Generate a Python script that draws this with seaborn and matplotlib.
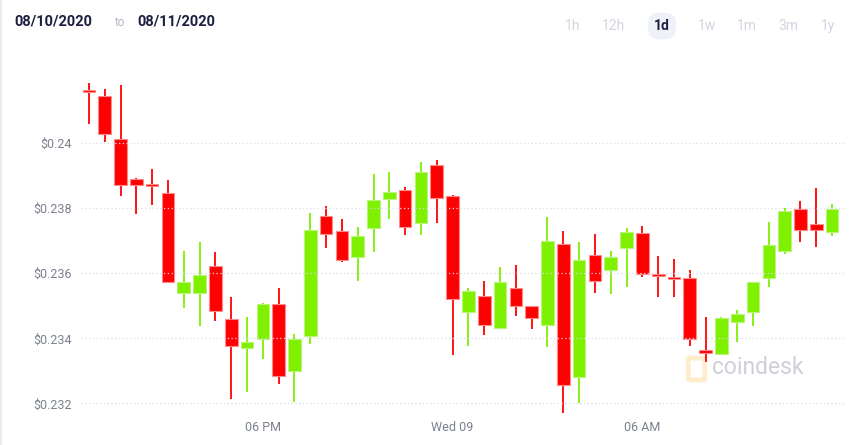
import matplotlib
matplotlib.use("Agg")
import matplotlib.pyplot as plt
import seaborn as sns
import numpy as np
import pandas as pd
from matplotlib.patches import FancyBboxPatch

# 30 minute candles
opens = [0.241631, 0.241446, 0.240123, 0.238903, 0.238749, 0.238462, 0.235405, 0.235405,
         0.236226, 0.234595, 0.233692, 0.233979, 0.235056, 0.232985, 0.234062, 0.237754,
         0.237292, 0.236492, 0.237405, 0.238287, 0.238554, 0.237559, 0.239333, 0.238379,
         0.234810, 0.235292, 0.234308, 0.235538, 0.234985, 0.234400, 0.236913, 0.232821,
         0.236564, 0.236103, 0.236769, 0.237241, 0.235959, 0.235877, 0.235856, 0.233631,
         0.233518, 0.234492, 0.234821, 0.235846, 0.236697, 0.237990, 0.237508, 0.237262]
closes = [0.241569, 0.240277, 0.238708, 0.238728, 0.238677, 0.235744, 0.235723, 0.235959,
          0.234851, 0.233774, 0.233887, 0.235056, 0.232831, 0.233979, 0.237333, 0.237200,
          0.236421, 0.237138, 0.238256, 0.238492, 0.237426, 0.239128, 0.238328, 0.235221,
          0.235446, 0.234400, 0.235723, 0.235005, 0.234636, 0.237005, 0.232564, 0.236410,
          0.235754, 0.236503, 0.237262, 0.235990, 0.235928, 0.235815, 0.233990, 0.233549,
          0.234615, 0.234749, 0.235733, 0.236862, 0.237918, 0.237333, 0.237344, 0.237969]
highs = [0.241846, 0.241662, 0.241795, 0.238923, 0.239210, 0.238872, 0.236687, 0.236954,
         0.236646, 0.235272, 0.234646, 0.235087, 0.235538, 0.234133, 0.237846, 0.238082,
         0.237672, 0.237426, 0.239046, 0.239108, 0.238646, 0.239415, 0.239487, 0.238410,
         0.235538, 0.235754, 0.236205, 0.236246, 0.235005, 0.237733, 0.237292, 0.236964,
         0.237221, 0.236677, 0.237395, 0.237456, 0.236533, 0.236430, 0.236092, 0.234646,
         0.234667, 0.234862, 0.235733, 0.237590, 0.238021, 0.238226, 0.238626, 0.238123]
lows = [0.240585, 0.240051, 0.238369, 0.237836, 0.238103, 0.235744, 0.234944, 0.234380,
        0.234544, 0.232123, 0.232349, 0.233374, 0.232605, 0.232051, 0.233815, 0.236790,
        0.236349, 0.235774, 0.236667, 0.237682, 0.237190, 0.237190, 0.237559, 0.233477,
        0.233774, 0.234092, 0.234308, 0.234677, 0.234287, 0.233723, 0.231713, 0.232000,
        0.235405, 0.235354, 0.235569, 0.235877, 0.235262, 0.235282, 0.233754, 0.233282,
        0.233487, 0.233897, 0.234390, 0.235590, 0.236605, 0.236964, 0.236821, 0.237159]

y_ticks = [0.232, 0.234, 0.236, 0.238, 0.24]
x_tick_pos = [11, 23, 35]
x_tick_labels = ["06 PM", "Wed 09", "06 AM"]
ranges = ["1h", "12h", "1d", "1w", "1m", "3m", "1y"]

df = pd.DataFrame({"open": opens, "high": highs, "low": lows, "close": closes})
df["idx"] = np.arange(len(df))
df["up"] = df["close"] >= df["open"]

GREEN = "#7ef000"
RED = "#ff0000"
GREEN_EDGE = "#b8f57a"
RED_EDGE = "#ff8a8a"

sns.set_theme(style="white")
plt.rcParams["font.family"] = ["Roboto", "DejaVu Sans"]

fig = plt.figure(figsize=(8.64, 4.45), dpi=100)
ax = fig.add_axes([0.09375, 0.0674, 0.884, 0.7753])
ax.set_facecolor("none")

for up, grp in df.groupby("up"):
    col = GREEN if up else RED
    edge = GREEN_EDGE if up else RED_EDGE
    ax.vlines(grp["idx"], grp["low"], grp["high"], color=col, lw=1.3, zorder=2)
    bottoms = grp[["open", "close"]].min(axis=1)
    heights = (grp["close"] - grp["open"]).abs().clip(lower=0.00005)
    ax.bar(grp["idx"], heights, bottom=bottoms, width=0.8, color=col,
           edgecolor=edge, linewidth=0.8, zorder=3)

ax.set_xlim(-0.5, 47.8)
ax.set_ylim(0.2316403, 0.2422554)

ax.set_yticks(y_ticks)
ax.set_yticklabels([f"${v:g}" for v in y_ticks])
ax.set_xticks(x_tick_pos)
ax.set_xticklabels(x_tick_labels)
ax.tick_params(axis="both", length=0, labelsize=9, labelcolor="#7a808e")
ax.tick_params(axis="y", pad=6.5)
ax.tick_params(axis="x", pad=4)

# dotted gridlines drawn over the candles
for v in y_ticks:
    ax.axhline(v, color="#d6dce8", lw=0.9, ls=(0, (1, 2)), zorder=4)

sns.despine(ax=ax, left=True, bottom=True)

# watermark, sits behind the candles
fig.text(712 / 864, 1 - 368 / 445, "coindesk", fontsize=16.5,
         color="#cdd0d8", ha="left", va="center", zorder=-1)
logo = FancyBboxPatch((690 / 864, 1 - 379 / 445), 13 / 864, 20 / 445,
                      boxstyle="round,pad=0.002", transform=fig.transFigure,
                      fill=False, edgecolor="#fdedcc", lw=3.5, zorder=-1)
fig.add_artist(logo)

# header
fig.text(14 / 864, 1 - 22 / 445, "08/10/2020", fontsize=10.5, fontweight="bold",
         color="#1c1f3f", ha="left", va="center")
fig.text(119 / 864, 1 - 23 / 445, "to", fontsize=8.5, color="#b5b9c4",
         ha="center", va="center")
fig.text(137 / 864, 1 - 22 / 445, "08/11/2020", fontsize=10.5, fontweight="bold",
         color="#1c1f3f", ha="left", va="center")

range_x = [573, 613, 662, 707, 747, 788, 828]
for lab, px in zip(ranges, range_x):
    if lab == "1d":
        fig.text(px / 864, 1 - 26 / 445, lab, fontsize=10, fontweight="bold",
                 color="#1c1f3f", ha="center", va="center",
                 bbox=dict(boxstyle="round,pad=0.45,rounding_size=0.8",
                           facecolor="#eef1f8", edgecolor="none"))
    else:
        fig.text(px / 864, 1 - 26 / 445, lab, fontsize=10, color="#d0d5e0",
                 ha="center", va="center")

fig.add_artist(plt.Line2D([0.001, 0.001], [0, 1], transform=fig.transFigure,
                          color="#e9ecf1", lw=1.5))

fig.savefig("out.png", dpi=100, facecolor="white")
